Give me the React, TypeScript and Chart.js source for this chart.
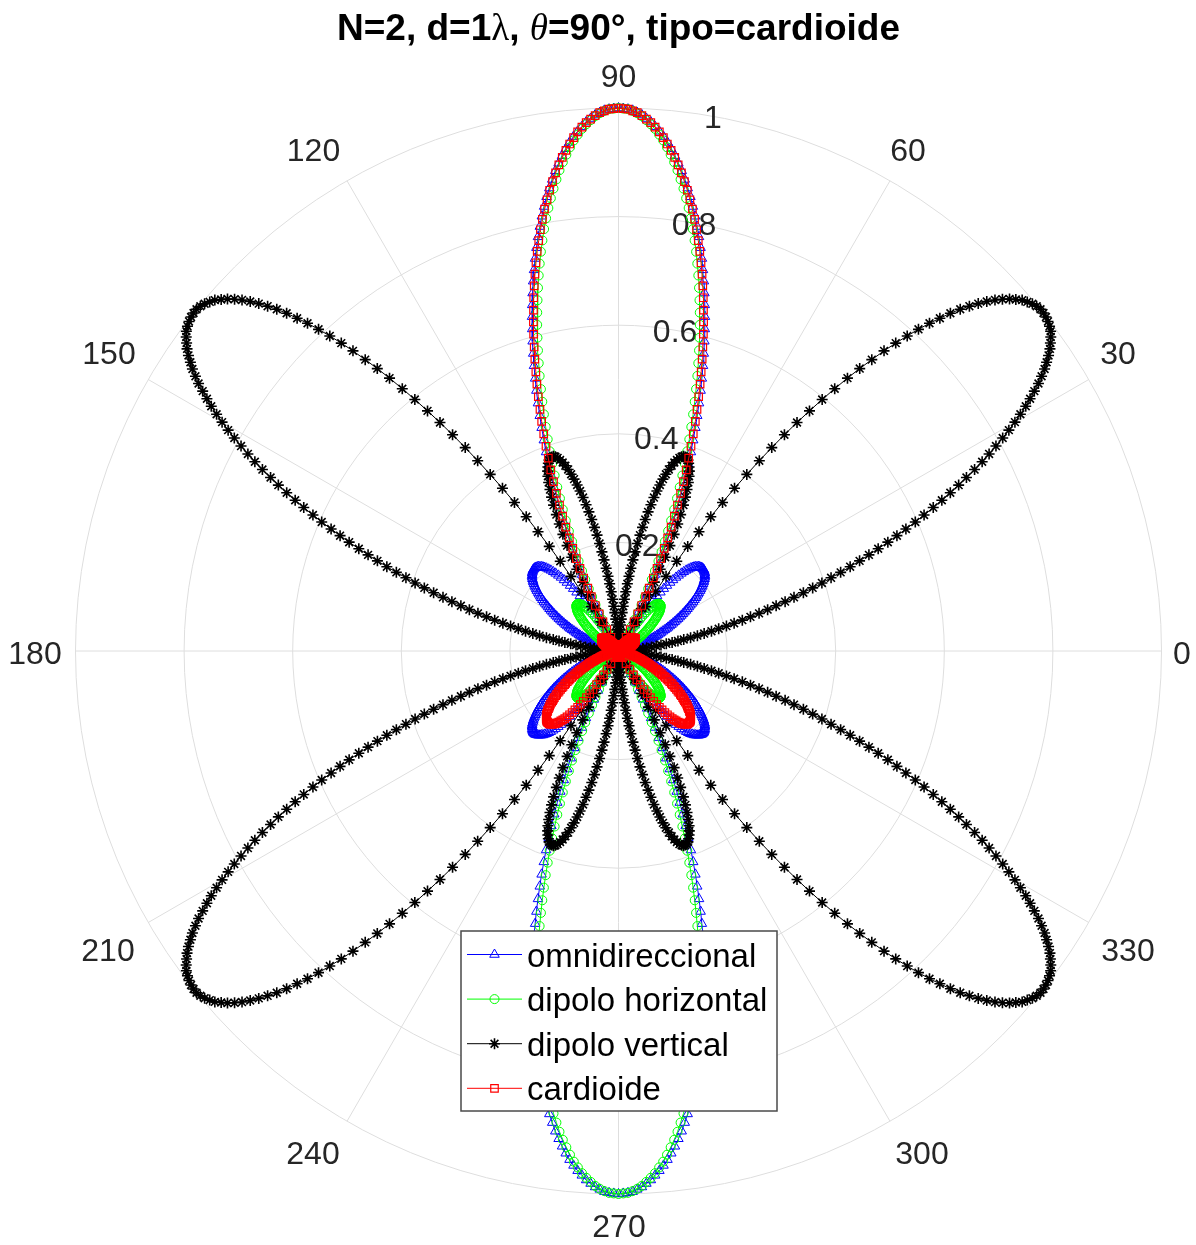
import React, { useEffect, useRef } from 'react';
import { Chart, registerables } from 'chart.js';

Chart.register(...registerables);

// ---------- text ----------
const TITLE_SEGMENTS = [
  { text: 'N=2, d=1', kind: 'bold' },
  { text: 'λ', kind: 'greek' },
  { text: ', ', kind: 'bold' },
  { text: 'θ', kind: 'greekItalic' },
  { text: '=90°, tipo=cardioide', kind: 'bold' },
];
const SERIES_LABELS = ['omnidireccional', 'dipolo horizontal', 'dipolo vertical', 'cardioide'];
const SERIES_COLORS = ['#0000FF', '#00FF00', '#000000', '#FF0000'];
const SERIES_MARKERS = ['triangle', 'circle', 'star', 'rect'];
const SERIES_MARKER_RADIUS = [5.5, 4.5, 5.5, 5.3];
const SERIES_MARKER_STROKE = [1, 1, 1.6, 1.2];
const ANGLE_TICKS = [0, 30, 60, 90, 120, 150, 180, 210, 240, 270, 300, 330];
const RADIAL_TICKS = [0.2, 0.4, 0.6, 0.8, 1];
const RADIAL_LABEL_ANGLE = 80;

// ---------- data ----------
// Signed pattern values (negative values are drawn through the origin, as MATLAB polar does),
// one quadrant (0..90 deg) sampled every SAMPLE_STEP_DEG degrees.
const SAMPLE_STEP_DEG = 0.5;
const OMNI_Q = [
  0, 0, 0, 0, -0.001, -0.001, -0.001, -0.002, -0.002, -0.003,
  -0.004, -0.005, -0.006, -0.006, -0.008, -0.009, -0.010, -0.011, -0.012, -0.014,
  -0.015, -0.017, -0.019, -0.020, -0.022, -0.024, -0.026, -0.028, -0.030, -0.033,
  -0.035, -0.037, -0.040, -0.042, -0.045, -0.048, -0.051, -0.054, -0.057, -0.060,
  -0.063, -0.066, -0.069, -0.072, -0.076, -0.079, -0.083, -0.086, -0.090, -0.094,
  -0.098, -0.101, -0.105, -0.109, -0.113, -0.117, -0.121, -0.125, -0.129, -0.133,
  -0.137, -0.141, -0.145, -0.149, -0.153, -0.157, -0.161, -0.165, -0.169, -0.173,
  -0.176, -0.180, -0.183, -0.187, -0.190, -0.193, -0.196, -0.199, -0.202, -0.204,
  -0.207, -0.209, -0.211, -0.212, -0.214, -0.215, -0.216, -0.217, -0.217, -0.217,
  -0.217, -0.216, -0.215, -0.214, -0.212, -0.210, -0.208, -0.205, -0.202, -0.198,
  -0.194, -0.189, -0.184, -0.178, -0.172, -0.165, -0.158, -0.150, -0.142, -0.133,
  -0.124, -0.114, -0.103, -0.092, -0.081, -0.069, -0.056, -0.043, -0.029, -0.015,
  0, 0.015, 0.031, 0.048, 0.065, 0.082, 0.100, 0.118, 0.137, 0.156,
  0.176, 0.196, 0.216, 0.237, 0.258, 0.280, 0.301, 0.323, 0.345, 0.367,
  0.390, 0.412, 0.435, 0.457, 0.480, 0.503, 0.525, 0.548, 0.570, 0.592,
  0.614, 0.636, 0.657, 0.678, 0.699, 0.719, 0.739, 0.758, 0.777, 0.795,
  0.813, 0.830, 0.847, 0.862, 0.877, 0.892, 0.905, 0.918, 0.930, 0.941,
  0.951, 0.960, 0.968, 0.976, 0.982, 0.988, 0.992, 0.996, 0.998, 0.999,
  1,
];
const HORIZ_Q = [
  0, 0, 0, 0, 0, 0, 0, 0, 0, 0,
  0, 0, 0, 0, 0, 0, 0, 0, 0, 0,
  0, -0.001, -0.001, -0.001, -0.001, -0.001, -0.001, -0.002, -0.002, -0.002,
  -0.002, -0.003, -0.003, -0.003, -0.004, -0.004, -0.005, -0.005, -0.006, -0.007,
  -0.007, -0.008, -0.009, -0.010, -0.011, -0.012, -0.013, -0.014, -0.015, -0.016,
  -0.017, -0.019, -0.020, -0.022, -0.023, -0.025, -0.027, -0.028, -0.030, -0.032,
  -0.034, -0.036, -0.039, -0.041, -0.043, -0.045, -0.048, -0.050, -0.053, -0.055,
  -0.058, -0.061, -0.063, -0.066, -0.069, -0.072, -0.074, -0.077, -0.080, -0.083,
  -0.085, -0.088, -0.091, -0.093, -0.096, -0.098, -0.101, -0.103, -0.105, -0.107,
  -0.108, -0.110, -0.111, -0.113, -0.114, -0.114, -0.115, -0.115, -0.115, -0.114,
  -0.114, -0.112, -0.111, -0.109, -0.107, -0.104, -0.101, -0.097, -0.093, -0.088,
  -0.083, -0.077, -0.071, -0.064, -0.057, -0.049, -0.040, -0.031, -0.021, -0.011,
  0, 0.012, 0.024, 0.037, 0.050, 0.065, 0.079, 0.095, 0.111, 0.127,
  0.145, 0.162, 0.181, 0.199, 0.219, 0.239, 0.259, 0.280, 0.301, 0.322,
  0.344, 0.366, 0.389, 0.411, 0.434, 0.457, 0.480, 0.503, 0.527, 0.550,
  0.573, 0.596, 0.619, 0.641, 0.663, 0.685, 0.707, 0.728, 0.749, 0.769,
  0.789, 0.808, 0.826, 0.843, 0.860, 0.876, 0.892, 0.906, 0.919, 0.932,
  0.944, 0.954, 0.964, 0.972, 0.979, 0.986, 0.991, 0.995, 0.998, 0.999,
  1,
];
const VERT_Q = [
  0, 0, -0.001, -0.003, -0.005, -0.008, -0.011, -0.015, -0.020, -0.025,
  -0.031, -0.038, -0.045, -0.052, -0.061, -0.070, -0.079, -0.089, -0.100, -0.111,
  -0.122, -0.135, -0.148, -0.161, -0.175, -0.189, -0.204, -0.219, -0.235, -0.251,
  -0.268, -0.285, -0.302, -0.320, -0.338, -0.357, -0.376, -0.395, -0.414, -0.434,
  -0.454, -0.474, -0.494, -0.514, -0.535, -0.555, -0.575, -0.596, -0.616, -0.637,
  -0.657, -0.677, -0.697, -0.716, -0.736, -0.755, -0.773, -0.791, -0.809, -0.826,
  -0.843, -0.859, -0.875, -0.889, -0.903, -0.917, -0.929, -0.941, -0.951, -0.961,
  -0.970, -0.977, -0.984, -0.990, -0.994, -0.997, -0.999, -1.000, -1.000, -0.998,
  -0.995, -0.990, -0.985, -0.977, -0.969, -0.959, -0.948, -0.935, -0.921, -0.906,
  -0.890, -0.872, -0.852, -0.832, -0.810, -0.787, -0.763, -0.738, -0.711, -0.684,
  -0.656, -0.626, -0.596, -0.565, -0.534, -0.502, -0.469, -0.436, -0.402, -0.368,
  -0.334, -0.300, -0.265, -0.231, -0.197, -0.163, -0.129, -0.096, -0.063, -0.031,
  0, 0.031, 0.060, 0.089, 0.117, 0.143, 0.169, 0.193, 0.216, 0.238,
  0.258, 0.276, 0.294, 0.309, 0.323, 0.336, 0.347, 0.356, 0.363, 0.369,
  0.374, 0.377, 0.378, 0.378, 0.376, 0.373, 0.368, 0.362, 0.355, 0.347,
  0.337, 0.327, 0.315, 0.303, 0.290, 0.276, 0.262, 0.247, 0.232, 0.217,
  0.201, 0.185, 0.170, 0.154, 0.139, 0.125, 0.110, 0.096, 0.083, 0.071,
  0.059, 0.048, 0.039, 0.030, 0.022, 0.015, 0.010, 0.006, 0.002, 0.001,
  0,
];
// cardioid: upper half-plane quadrant (0..90 deg) and lower half-plane quadrant (0..-90 deg)
const CARD_UPPER_Q = [
  0, 0, 0, 0, 0, 0, -0.001, -0.001, -0.001, -0.002,
  -0.002, -0.003, -0.003, -0.004, -0.004, -0.005, -0.006, -0.006, -0.007, -0.008,
  -0.009, -0.010, -0.011, -0.012, -0.013, -0.015, -0.016, -0.017, -0.019, -0.020,
  -0.022, -0.024, -0.025, -0.027, -0.029, -0.031, -0.033, -0.035, -0.037, -0.040,
  -0.042, -0.044, -0.047, -0.049, -0.052, -0.055, -0.058, -0.060, -0.063, -0.066,
  -0.069, -0.072, -0.076, -0.079, -0.082, -0.085, -0.089, -0.092, -0.096, -0.099,
  -0.103, -0.106, -0.110, -0.114, -0.117, -0.121, -0.124, -0.128, -0.132, -0.135,
  -0.139, -0.142, -0.146, -0.149, -0.152, -0.155, -0.159, -0.162, -0.164, -0.167,
  -0.170, -0.172, -0.175, -0.177, -0.179, -0.180, -0.182, -0.183, -0.184, -0.185,
  -0.185, -0.185, -0.185, -0.185, -0.184, -0.183, -0.181, -0.179, -0.177, -0.174,
  -0.171, -0.167, -0.163, -0.159, -0.154, -0.148, -0.142, -0.135, -0.128, -0.121,
  -0.113, -0.104, -0.095, -0.085, -0.074, -0.063, -0.052, -0.040, -0.027, -0.014,
  0, 0.014, 0.029, 0.045, 0.061, 0.077, 0.094, 0.112, 0.129, 0.149,
  0.168, 0.187, 0.207, 0.227, 0.248, 0.269, 0.290, 0.312, 0.334, 0.356,
  0.378, 0.400, 0.423, 0.446, 0.468, 0.491, 0.514, 0.536, 0.559, 0.581,
  0.604, 0.626, 0.647, 0.669, 0.690, 0.711, 0.731, 0.751, 0.770, 0.789,
  0.807, 0.825, 0.841, 0.858, 0.873, 0.888, 0.902, 0.915, 0.927, 0.938,
  0.949, 0.959, 0.967, 0.975, 0.981, 0.987, 0.992, 0.995, 0.998, 0.999,
  1,
];
const CARD_LOWER_Q = [
  0, 0, 0, 0, 0, 0, -0.001, -0.001, -0.001, -0.001,
  -0.002, -0.002, -0.002, -0.003, -0.003, -0.004, -0.004, -0.005, -0.005, -0.006,
  -0.006, -0.007, -0.008, -0.008, -0.009, -0.009, -0.010, -0.011, -0.012, -0.012,
  -0.013, -0.014, -0.014, -0.015, -0.016, -0.017, -0.018, -0.018, -0.019, -0.020,
  -0.021, -0.021, -0.022, -0.023, -0.024, -0.024, -0.025, -0.026, -0.027, -0.027,
  -0.028, -0.029, -0.030, -0.030, -0.031, -0.031, -0.032, -0.033, -0.033, -0.034,
  -0.034, -0.035, -0.035, -0.036, -0.036, -0.036, -0.037, -0.037, -0.037, -0.037,
  -0.038, -0.038, -0.038, -0.038, -0.038, -0.038, -0.038, -0.038, -0.037, -0.037,
  -0.037, -0.037, -0.036, -0.036, -0.035, -0.035, -0.034, -0.034, -0.033, -0.032,
  -0.032, -0.031, -0.030, -0.029, -0.029, -0.028, -0.027, -0.026, -0.025, -0.024,
  -0.023, -0.022, -0.020, -0.019, -0.018, -0.017, -0.016, -0.015, -0.014, -0.012,
  -0.011, -0.010, -0.009, -0.008, -0.007, -0.005, -0.004, -0.003, -0.002, -0.001,
  0, 0.001, 0.002, 0.003, 0.004, 0.005, 0.005, 0.006, 0.007, 0.008,
  0.008, 0.009, 0.009, 0.010, 0.010, 0.011, 0.011, 0.011, 0.011, 0.012,
  0.012, 0.012, 0.012, 0.012, 0.012, 0.012, 0.011, 0.011, 0.011, 0.011,
  0.010, 0.010, 0.010, 0.009, 0.009, 0.009, 0.008, 0.008, 0.007, 0.007,
  0.006, 0.006, 0.005, 0.005, 0.004, 0.004, 0.003, 0.003, 0.003, 0.002,
  0.002, 0.001, 0.001, 0.001, 0.001, 0, 0, 0, 0, 0,
  0,
];

// ---------- style / layout ----------
const FONT = '"Liberation Sans", Arial, Helvetica, sans-serif';
const GREEK_FONT = '"Liberation Serif", "DejaVu Serif", "Times New Roman", serif';
const GRID_COLOR = 'rgb(222,222,222)';
const TICK_COLOR = '#262626';
const TICK_FONT_PX = 32;
const LEGEND_FONT_PX = 33;
const TITLE_FONT_PX = 37;
// centre of each angle label, in pixels from the plot centre (same order as ANGLE_TICKS)
const ANGLE_LABEL_OFFSETS = [
  [563.5, 4], [499.5, -296], [289.5, -499], [0, -573], [-305, -499], [-509.5, -296],
  [-583.5, 4], [-510.5, 301], [-305.5, 504], [0.5, 577], [303.5, 504], [509.5, 301],
];

function toRad(d: number) {
  return (d * Math.PI) / 180;
}

// Full closed 0..360 deg curve from the quadrant tables (mirror symmetry of the patterns).
function buildCurve(upper: number[], lower: number[]) {
  const quarter = upper.length - 1;
  const pts: { x: number; y: number }[] = [];
  for (let i = 0; i <= 4 * quarter; i++) {
    let q: number;
    let arr: number[];
    if (i <= quarter) { q = i; arr = upper; }
    else if (i <= 2 * quarter) { q = 2 * quarter - i; arr = upper; }
    else if (i <= 3 * quarter) { q = i - 2 * quarter; arr = lower; }
    else { q = 4 * quarter - i; arr = lower; }
    const r = arr[q];
    const t = toRad(i * SAMPLE_STEP_DEG);
    pts.push({ x: r * Math.cos(t), y: r * Math.sin(t) });
  }
  return pts;
}

function drawMarker(ctx: CanvasRenderingContext2D, style: string, x: number, y: number, r: number) {
  ctx.beginPath();
  if (style === 'triangle') {
    ctx.moveTo(x, y - r);
    ctx.lineTo(x + Math.sin(toRad(120)) * r, y - Math.cos(toRad(120)) * r);
    ctx.lineTo(x + Math.sin(toRad(240)) * r, y - Math.cos(toRad(240)) * r);
    ctx.closePath();
  } else if (style === 'circle') {
    ctx.arc(x, y, r, 0, Math.PI * 2);
  } else if (style === 'rect') {
    const s = r * Math.SQRT1_2;
    ctx.rect(x - s, y - s, 2 * s, 2 * s);
  } else if (style === 'star') {
    ctx.moveTo(x, y - r); ctx.lineTo(x, y + r);
    ctx.moveTo(x - r, y); ctx.lineTo(x + r, y);
    const d = r * Math.SQRT1_2;
    ctx.moveTo(x - d, y - d); ctx.lineTo(x + d, y + d);
    ctx.moveTo(x - d, y + d); ctx.lineTo(x + d, y - d);
  }
  ctx.stroke();
}

const polarDecor = {
  id: 'polarDecor',
  beforeDatasetsDraw(chart: any) {
    const { ctx } = chart;
    const sx = chart.scales.x;
    const sy = chart.scales.y;
    const pos = (r: number, deg: number) => [
      sx.getPixelForValue(r * Math.cos(toRad(deg))),
      sy.getPixelForValue(r * Math.sin(toRad(deg))),
    ];
    const cx = sx.getPixelForValue(0);
    const cy = sy.getPixelForValue(0);
    const R = sx.getPixelForValue(1) - cx;
    ctx.save();
    ctx.strokeStyle = GRID_COLOR;
    ctx.lineWidth = 1;
    RADIAL_TICKS.forEach((r) => {
      ctx.beginPath();
      ctx.arc(cx, cy, r * R, 0, Math.PI * 2);
      ctx.stroke();
    });
    ANGLE_TICKS.forEach((a) => {
      const [x, y] = pos(1, a);
      ctx.beginPath();
      ctx.moveTo(cx, cy);
      ctx.lineTo(x, y);
      ctx.stroke();
    });
    ctx.fillStyle = TICK_COLOR;
    ctx.font = `${TICK_FONT_PX}px ${FONT}`;
    ctx.textAlign = 'center';
    ctx.textBaseline = 'middle';
    RADIAL_TICKS.forEach((r) => {
      const [x, y] = pos(r, RADIAL_LABEL_ANGLE);
      ctx.fillText(String(r), x, y + 3);
    });
    ANGLE_TICKS.forEach((a, i) => {
      const [dx, dy] = ANGLE_LABEL_OFFSETS[i];
      ctx.fillText(String(a), cx + dx, cy + dy);
    });
    ctx.restore();
  },
  afterDatasetsDraw(chart: any) {
    const { ctx } = chart;
    const sx = chart.scales.x;
    const sy = chart.scales.y;
    const cx = sx.getPixelForValue(0);
    const cy = sy.getPixelForValue(0);
    ctx.save();
    // legend box
    const bx = cx - 157.5;
    const by = cy + 280;
    const bw = 316;
    const bh = 180;
    ctx.fillStyle = '#FFFFFF';
    ctx.fillRect(bx, by, bw, bh);
    ctx.strokeStyle = '#4a4a4a';
    ctx.lineWidth = 1.5;
    ctx.strokeRect(bx, by, bw, bh);
    ctx.font = `${LEGEND_FONT_PX}px ${FONT}`;
    ctx.textAlign = 'left';
    ctx.textBaseline = 'middle';
    SERIES_LABELS.forEach((label, i) => {
      const y = by + 23.5 + i * 44.6;
      const color = SERIES_COLORS[i];
      ctx.strokeStyle = color;
      ctx.lineWidth = 1;
      ctx.beginPath();
      ctx.moveTo(bx + 6, y);
      ctx.lineTo(bx + 61, y);
      ctx.stroke();
      ctx.lineWidth = SERIES_MARKER_STROKE[i];
      drawMarker(ctx, SERIES_MARKERS[i], bx + 33.5, y, SERIES_MARKER_RADIUS[i]);
      ctx.fillStyle = '#000000';
      ctx.fillText(label, bx + 66, y + 3);
    });
    // title
    const fontFor = (kind: string) =>
      kind === 'bold'
        ? `bold ${TITLE_FONT_PX}px ${FONT}`
        : kind === 'greekItalic'
        ? `italic ${TITLE_FONT_PX}px ${GREEK_FONT}`
        : `${TITLE_FONT_PX}px ${GREEK_FONT}`;
    let total = 0;
    TITLE_SEGMENTS.forEach((s) => {
      ctx.font = fontFor(s.kind);
      total += ctx.measureText(s.text).width;
    });
    let x = cx - total / 2;
    ctx.fillStyle = '#000000';
    ctx.textAlign = 'left';
    ctx.textBaseline = 'middle';
    TITLE_SEGMENTS.forEach((s) => {
      ctx.font = fontFor(s.kind);
      ctx.fillText(s.text, x, 30);
      x += ctx.measureText(s.text).width;
    });
    ctx.restore();
  },
};

const CURVES = [
  buildCurve(OMNI_Q, OMNI_Q),
  buildCurve(HORIZ_Q, HORIZ_Q),
  buildCurve(VERT_Q, VERT_Q),
  buildCurve(CARD_UPPER_Q, CARD_LOWER_Q),
];
const DRAW_ORDER = [3, 2, 1, 0];

export default function App() {
  const canvasRef = useRef<HTMLCanvasElement | null>(null);
  useEffect(() => {
    if (!canvasRef.current) return;
    const chart = new Chart(canvasRef.current, {
      type: 'scatter',
      data: {
        datasets: SERIES_LABELS.map((label, i) => ({
          label,
          data: CURVES[i],
          showLine: true,
          borderColor: SERIES_COLORS[i],
          borderWidth: 1,
          pointStyle: SERIES_MARKERS[i] as any,
          pointRadius: SERIES_MARKER_RADIUS[i],
          pointBorderColor: SERIES_COLORS[i],
          pointBackgroundColor: 'rgba(0,0,0,0)',
          pointBorderWidth: SERIES_MARKER_STROKE[i],
          fill: false,
          tension: 0,
          clip: false as any,
          order: DRAW_ORDER[i],
        })),
      },
      options: {
        animation: false,
        responsive: false,
        maintainAspectRatio: false,
        devicePixelRatio: 1,
        events: [],
        layout: { padding: { left: 75.5, right: 34.5, top: 108, bottom: 51 } },
        scales: {
          x: { type: 'linear', min: -1, max: 1, display: false },
          y: { type: 'linear', min: -1, max: 1, display: false },
        },
        plugins: {
          legend: { display: false },
          tooltip: { enabled: false },
          title: { display: false },
        },
      },
      plugins: [polarDecor],
    });
    return () => chart.destroy();
  }, []);
  return (
    <div style={{ position: 'absolute', left: 0, top: 0, width: 1196, height: 1245, background: '#fff' }}>
      <canvas ref={canvasRef} width={1196} height={1245} style={{ display: 'block' }} />
    </div>
  );
}
